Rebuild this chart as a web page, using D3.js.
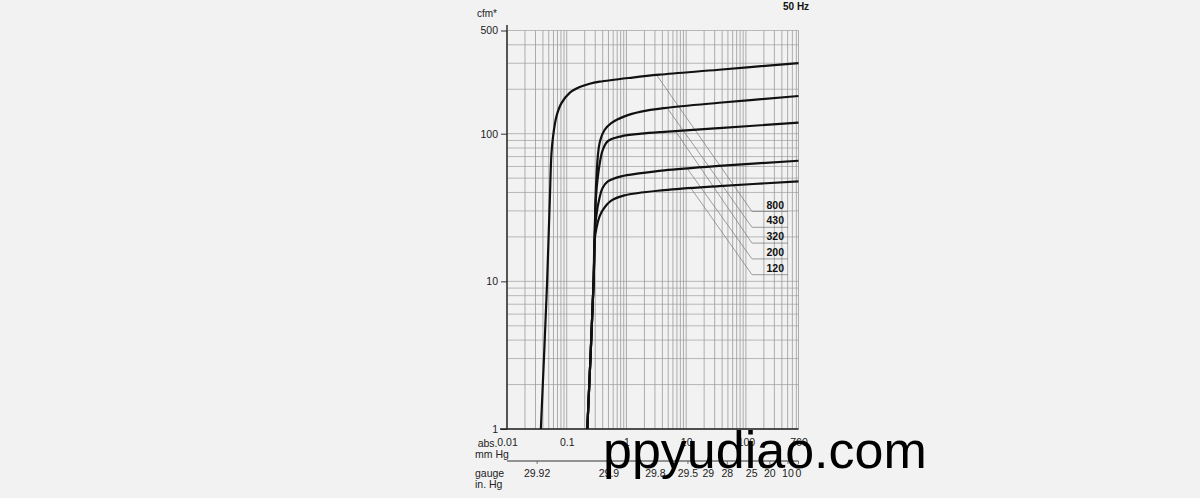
<!DOCTYPE html>
<html><head><meta charset="utf-8">
<script src="https://cdn.jsdelivr.net/npm/d3@7"></script>
<style>
body{margin:0;background:#f2f2f2;}
svg{display:block;font-family:"Liberation Sans",Arial,sans-serif;}
</style>
</head><body><svg id="c" width="1200" height="498"></svg>
<script>
// ---- data (pressure in mm Hg abs, pumping speed in cfm) ----
const models = ["800", "430", "320", "200", "120"];
const curve800 = [[0.0369,1],[0.047,10],[0.0521,35.7],[0.0556,74],[0.0591,96],[0.0673,131],[0.0816,161],[0.112,189],[0.165,207],[0.242,218],[0.355,225],[1.26,240],[3.55,251],[35.5,271],[760,301]];
const curve430 = [[0.221,1],[0.282,10],[0.293,19],[0.313,48.8],[0.355,86.5],[0.43,106],[0.556,118],[0.926,131],[1.76,141],[4.3,149],[35.5,162],[760,180]];
const curve320 = [[0.221,1],[0.282,10],[0.293,19],[0.31,38],[0.355,62],[0.403,78],[0.488,89],[0.816,96],[1.76,100],[4.3,103],[35.5,109],[760,119]];
const curve200 = [[0.221,1],[0.282,10],[0.293,19],[0.31,27],[0.355,37],[0.4,43],[0.488,47.5],[0.816,51.4],[1.76,54],[4.3,56.5],[35.5,60.5],[760,65.6]];
const curve120 = [[0.221,1],[0.282,10],[0.293,19],[0.315,23],[0.355,27.5],[0.403,30.5],[0.556,35.2],[0.926,38.2],[4.3,41.5],[35.5,44.2],[760,47.5]];
const curves = [curve800, curve430, curve320, curve200, curve120];
const leaderP = [3.2, 4.8, 6.6, 10.4, 12];          // pressure where each label leader leaves its curve
const yTicks = [1, 10, 100, 500];
const xTicks = [0.01, 0.1, 1, 10, 100, 760];
const xTickLabels = ["0.01", "0.1", "1", "10", "100", "760"];
const gaugeLabels = ["29.92", "29.9", "29.8", "29.5", "29", "28", "25", "20", "10", "0"];
const gaugeAbs = [0.032, 0.51, 3.05, 10.7, 23.4, 48.8, 125, 252, 506, 760];

// ---- layout ----
const svg = d3.select("#c");
const X0 = 507, X1 = 798.5, Y0 = 429, Y1 = 30.5;
const x = d3.scaleLog().domain([0.01, 760]).range([X0, X1]);
const y = d3.scaleLog().domain([1, 500]).range([Y0, Y1]);
const FONT = "Liberation Sans, Arial, sans-serif";

svg.append("rect").attr("width",1200).attr("height",498).attr("fill","#f2f2f2");

// grid values
const vGrid = [];
[0.01,0.1,1,10,100].forEach(d => { for (let k=1;k<=9;k++){ const v=+(k*d).toPrecision(3); if (v<=760) vGrid.push(v);} });
vGrid.push(760);
const hGrid = [];
[1,10,100].forEach(d => { for (let k=1;k<=9;k++){ const v=k*d; if (v<=500) hGrid.push(v);} });

const g = svg.append("g");
g.selectAll("line.h").data(hGrid).join("line").attr("class","h")
  .attr("x1",X0).attr("x2",X1).attr("y1",d=>y(d)).attr("y2",d=>y(d))
  .attr("stroke","#a8a8a8").attr("stroke-width",0.8);
g.selectAll("line.v").data(vGrid).join("line").attr("class","v")
  .attr("x1",d=>x(d)).attr("x2",d=>x(d)).attr("y1",Y1).attr("y2",Y0)
  .attr("stroke","#9a9a9a").attr("stroke-width",0.8);

// axes
const yAxis = d3.axisLeft(y).tickValues(yTicks).tickFormat(d3.format("d")).tickSize(6).tickPadding(3);
const ya = svg.append("g").attr("transform",`translate(${X0},0)`).call(yAxis);
ya.select(".domain").remove();
ya.selectAll("line").attr("stroke","#333");
ya.selectAll("text").attr("font-size",10.5).attr("fill","#222").attr("font-family",FONT);
svg.append("line").attr("x1",X0).attr("x2",X0).attr("y1",25).attr("y2",Y0).attr("stroke","#222").attr("stroke-width",1.4);
svg.append("line").attr("x1",500).attr("x2",X1).attr("y1",Y0).attr("y2",Y0).attr("stroke","#222").attr("stroke-width",1.4);

const xAxis = d3.axisBottom(x).tickValues(xTicks).tickFormat((d,i)=>xTickLabels[i]).tickSize(0).tickPadding(10);
const xa = svg.append("g").attr("transform",`translate(0,${Y0})`).call(xAxis);
xa.select(".domain").remove();
xa.selectAll("text").attr("font-size",10.5).attr("fill","#222").attr("font-family",FONT);

svg.append("text").attr("x",497.5).attr("y",447).attr("text-anchor","end").attr("font-size",10.5).attr("fill","#222").text("abs.");
svg.append("text").attr("x",475).attr("y",458).attr("font-size",10.5).attr("fill","#222").text("mm Hg");

// gauge axis
const GY = 461;
svg.append("line").attr("x1",X0).attr("x2",X1).attr("y1",GY).attr("y2",GY).attr("stroke","#333").attr("stroke-width",1);
svg.selectAll("line.gt").data(gaugeAbs).join("line").attr("class","gt")
  .attr("x1",d=>x(d)).attr("x2",d=>x(d)).attr("y1",GY).attr("y2",GY+3).attr("stroke","#555").attr("stroke-width",0.8);
svg.selectAll("text.gl").data(gaugeLabels).join("text").attr("class","gl")
  .attr("x",(d,i)=>x(gaugeAbs[i])).attr("y",477).attr("text-anchor","middle")
  .attr("font-size",10.5).attr("fill","#222").text(d=>d);
svg.append("text").attr("x",475).attr("y",477).attr("font-size",10.5).attr("fill","#222").text("gauge");
svg.append("text").attr("x",475).attr("y",488).attr("font-size",10.5).attr("fill","#222").text("in. Hg");

// titles
svg.append("text").attr("x",477).attr("y",17).attr("font-size",10).attr("fill","#222").text("cfm*");
svg.append("text").attr("x",783).attr("y",10).attr("font-size",10).attr("font-weight","bold").attr("fill","#111").text("50 Hz");

// leader lines and labels
function curveAt(pts, p){
  for (let i=1;i<pts.length;i++){
    if (p<=pts[i][0]){
      const a=pts[i-1], b=pts[i];
      const t=(Math.log(p)-Math.log(a[0]))/(Math.log(b[0])-Math.log(a[0]));
      return Math.exp(Math.log(a[1])+t*(Math.log(b[1])-Math.log(a[1])));
    }
  }
  return pts[pts.length-1][1];
}
const LX = 752, LX2 = 788, LY0 = 211.5, LSTEP = 15.8;
models.forEach((m,i)=>{
  const ly = LY0 + i*LSTEP;
  const sp = leaderP[i], sv = curveAt(curves[i], sp);
  svg.append("path").attr("d",`M${x(sp)},${y(sv)}L${LX},${ly}L${LX2},${ly}`)
    .attr("fill","none").attr("stroke","#777").attr("stroke-width",0.7);
  svg.append("text").attr("x",784).attr("y",ly-3).attr("text-anchor","end")
    .attr("font-size",10.5).attr("font-weight","bold").attr("fill","#111").text(m);
});

// curves
const line = d3.line().x(d=>x(d[0])).y(d=>y(d[1])).curve(d3.curveCatmullRom.alpha(0.5));
svg.selectAll("path.curve").data(curves).join("path").attr("class","curve")
  .attr("d",line).attr("fill","none").attr("stroke","#111").attr("stroke-width",2.2);

// watermark
svg.append("text").attr("x",603).attr("y",468).attr("font-size",52).attr("fill","#000")
  .attr("font-family",FONT).text("ppyudiao.com");
</script>
</body></html>
